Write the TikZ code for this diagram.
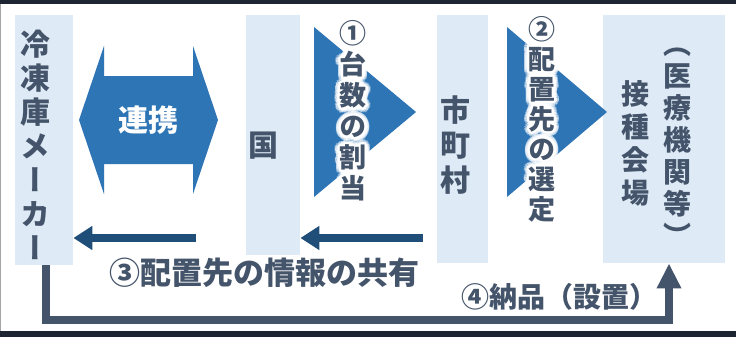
\documentclass[tikz,border=0pt]{standalone}
\usepackage{fontspec}
\newfontfamily\jp{Noto Sans CJK JP}
\newfontfamily\jpv{Noto Sans CJK JP}[RawFeature=+vert]
\usetikzlibrary{calc,arrows.meta}
\definecolor{boxfill}{HTML}{DEEAF6}
\definecolor{txt}{HTML}{44546A}
\definecolor{blu}{HTML}{2E75B6}
\definecolor{navy}{HTML}{1F4E79}
\definecolor{framec}{HTML}{1E2532}
\begin{document}
\begin{tikzpicture}[x=1pt,y=-1pt,
  panel/.style={fill=boxfill, draw=none, inner sep=0, anchor=north west},
  vbig/.style={font=\jpv\bfseries\fontsize{30}{34}\selectfont, text=txt, align=center, inner sep=0},
  vsmall/.style={font=\jpv\bfseries\fontsize{27}{31}\selectfont, text=txt, align=center, inner sep=0},
  htext/.style={font=\jp\bfseries\fontsize{30}{34}\selectfont, text=txt, inner sep=0},
  shareArrow/.style={draw=navy, line width=8pt, -{Triangle[length=19pt,width=23pt]}},
  deliverArrow/.style={draw=txt, line width=8pt, -{Triangle[length=25pt,width=23pt]}},
  bigshape/.style={fill=blu}
]
\useasboundingbox (0,0) rectangle (736,337);
\fill[white] (0,0) rectangle (736,337);
% frame
\fill[framec] (0,0) rectangle (736,4);
\fill[framec] (0,331) rectangle (736,337);
\fill[gray!70] (0,4) rectangle (1.3,331);

% panels
\node[panel, minimum width=58pt, minimum height=250pt] (maker) at (15,15) {};
\node[panel, minimum width=54pt, minimum height=240pt] (kuni) at (246,15) {};
\node[panel, minimum width=51pt, minimum height=248pt] (muni) at (437,15) {};
\node[panel, minimum width=122pt, minimum height=248pt] (site) at (603,15) {};

% panel texts
\node[vbig] (makerT) at (35,145) {冷\\凍\\庫\\メ\\ー\\カ\\ー};
\node[htext] (kuniT) at (263,146) {国};
\node[vbig, font=\jpv\bfseries\fontsize{30}{35}\selectfont] (muniT) at (455,145) {市\\町\\村};
\node[vbig, font=\jpv\bfseries\fontsize{28}{33}\selectfont] (siteT) at (635,143) {接\\種\\会\\場};
\node[vbig, font=\jpv\bfseries\fontsize{28}{32}\selectfont] (siteT2) at (677,147) {（\\医\\療\\機\\関\\等\\）};

% double arrow (連携)
\fill[bigshape] (79,120) -- (104,46) -- (104,76) -- (193,76) -- (193,46) -- (218,120)
  -- (193,194) -- (193,164) -- (104,164) -- (104,194) -- cycle;
\node[htext, text=white] (renkei) at (148,120) {連携};

% triangles
\fill[bigshape] (314,27) -- (416,112) -- (314,197) -- cycle;
\fill[bigshape] (507,27) -- (607,112) -- (507,197) -- cycle;

% halo texts
\coordinate (t1) at (353,111);
\coordinate (t2) at (542,119);
\foreach \a in {0,20,...,340} {
  \node[vsmall, text=white, text opacity=0.45] at ($(t1)+(\a:5)$) {①\\台\\数\\の\\割\\当};
  \node[vsmall, text=white, text opacity=0.45, font=\jpv\bfseries\fontsize{27}{30}\selectfont] at ($(t2)+(\a:5)$) {②\\配\\置\\先\\の\\選\\定};
}
\foreach \a in {0,20,...,340} {
  \node[vsmall, text=white] at ($(t1)+(\a:2.5)$) {①\\台\\数\\の\\割\\当};
  \node[vsmall, text=white, font=\jpv\bfseries\fontsize{27}{30}\selectfont] at ($(t2)+(\a:2.5)$) {②\\配\\置\\先\\の\\選\\定};
}
\node[vsmall] (step1) at (t1) {①\\台\\数\\の\\割\\当};
\node[vsmall, font=\jpv\bfseries\fontsize{27}{30}\selectfont] (step2) at (t2) {②\\配\\置\\先\\の\\選\\定};

% sharing arrows
\coordinate (s1) at (423,238);
\coordinate (s2) at (196,238);
\draw[shareArrow] (s1) -- (kuni.east |- s1);
\draw[shareArrow] (s2) -- (maker.east |- s2);
\node[htext, font=\jp\bfseries\fontsize{31}{34}\selectfont] (share) at (264,273) {③配置先の情報の共有};

% delivery
\coordinate (d1) at (46,320);
\coordinate (d2) at (669,320);
\draw[deliverArrow] (maker.south -| d1) |- (d2) -- (site.south -| d2);
\node[htext, font=\jp\bfseries\fontsize{28}{32}\selectfont] (deliver) at (559,297) {④納品（設置）};
\end{tikzpicture}
\end{document}
